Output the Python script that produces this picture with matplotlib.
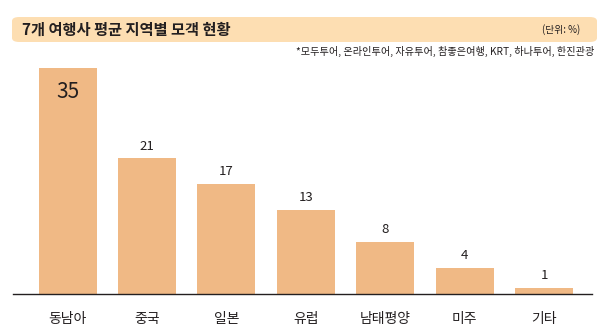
import matplotlib.pyplot as plt
from matplotlib.patches import FancyBboxPatch

plt.rcParams['font.family'] = ['Noto Sans CJK KR', 'DejaVu Sans']

regions = ['동남아', '중국', '일본', '유럽', '남태평양', '미주', '기타']
shares = [35, 21, 17, 13, 8, 4, 1]

bar_color = '#F0B985'
band_color = '#FDDEB2'
text_color = '#231F20'

fig = plt.figure(figsize=(6.13, 3.36), dpi=100)
ax = fig.add_axes([0.0207, 0.125, 0.945, 0.673])

x = range(len(regions))
bars = ax.bar(x, shares, width=0.73, color=bar_color)

for i, v in enumerate(shares):
    if i == 0:
        ax.text(i, v - 2.0, str(v), ha='center', va='top', fontsize=15, color=text_color)
    else:
        ax.text(i, v + 0.9, str(v), ha='center', va='bottom', fontsize=9.5, color=text_color)

ax.set_xlim(-0.69, 6.6)
ax.set_ylim(0, 35)
ax.set_xticks(list(x))
ax.set_xticklabels(regions, fontsize=10, color=text_color)
ax.tick_params(axis='x', length=0, pad=13)
ax.set_yticks([])
for side in ['top', 'right', 'left']:
    ax.spines[side].set_visible(False)
ax.spines['bottom'].set_color('#231F20')
ax.spines['bottom'].set_linewidth(1.0)

# title band
band = FancyBboxPatch((12 / 613, 1 - 42 / 336), 585 / 613, 25 / 336,
                      boxstyle='round,pad=0,rounding_size=0.012',
                      transform=fig.transFigure, facecolor=band_color,
                      edgecolor='none')
fig.patches.append(band)
fig.text(22 / 613, 1 - 29.5 / 336, '7개 여행사 평균 지역별 모객 현황', ha='left', va='center',
         fontsize=11, fontweight='bold', color=text_color)
fig.text(580 / 613, 1 - 29.5 / 336, '(단위: %)', ha='right', va='center',
         fontsize=7, color=text_color)
fig.text(594 / 613, 1 - 51 / 336, '*모두투어, 온라인투어, 자유투어, 참좋은여행, KRT, 하나투어, 한진관광',
         ha='right', va='center', fontsize=7.3, color=text_color)

fig.savefig('out.png', dpi=100)
